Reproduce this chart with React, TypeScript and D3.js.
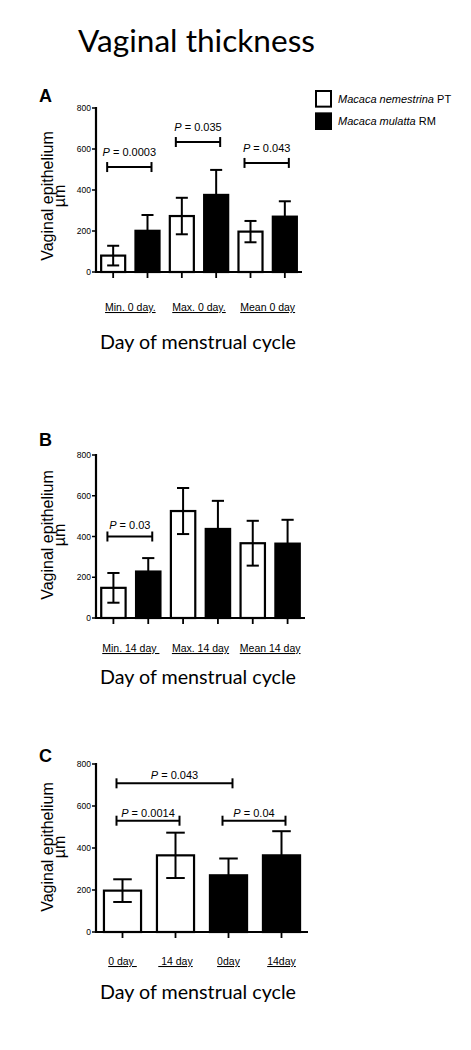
import React from 'react';
import * as d3 from 'd3';

// ---------- data ----------
const yTicks = [0, 200, 400, 600, 800];

const catsA = ['Min. 0 day.', 'Max. 0 day.', 'Mean 0 day'];
const ptMeanA = [80, 273, 197];
const ptSdA = [48, 89, 52];
const rmMeanA = [201, 376, 270];
const rmSdA = [77, 122, 75];
const bracketsA = [
  { from: 0, to: 1, y: 512, p: '0.0003' },
  { from: 2, to: 3, y: 634, p: '0.035' },
  { from: 4, to: 5, y: 532, p: '0.043' },
];

const catsB = ['Min. 14 day ', 'Max. 14 day', 'Mean 14 day'];
const ptMeanB = [148, 525, 367];
const ptSdB = [73, 113, 110];
const rmMeanB = [228, 437, 365];
const rmSdB = [66, 138, 117];
const bracketsB = [{ from: 0, to: 1, y: 400, p: '0.03' }];

const catsC = ['0 day ', ' 14 day', '0day', '14day'];
const speciesC = ['PT', 'PT', 'RM', 'RM'];
const meanC = [197, 365, 270, 365];
const sdC = [54, 108, 80, 115];
const bracketsC = [
  { from: 0, to: 2, y: 708, p: '0.043' },
  { from: 0, to: 1, y: 530, p: '0.0014' },
  { from: 2, to: 3, y: 530, p: '0.04' },
];

const legendItems = [
  { species: 'PT', italic: 'Macaca nemestrina', suffix: ' PT' },
  { species: 'RM', italic: 'Macaca mulatta', suffix: ' RM' },
];

type Bar = { id: string; species: string; v: number; sd: number };
type Bracket = { from: number; to: number; y: number; p: string };

function pairBars(ptM: number[], ptS: number[], rmM: number[], rmS: number[]): Bar[] {
  const out: Bar[] = [];
  ptM.forEach((_, i) => {
    out.push({ id: `${i}-PT`, species: 'PT', v: ptM[i], sd: ptS[i] });
    out.push({ id: `${i}-RM`, species: 'RM', v: rmM[i], sd: rmS[i] });
  });
  return out;
}

const SANS = '"Liberation Sans", Arial, sans-serif';
const CAL = 'Lato, "Open Sans", sans-serif';

type Layout = {
  x0: number; x1: number; yBase: number; yTop: number;
  letter: string; letterY: number; labelY: number; titleY: number;
  yLabelCY: number; pGap: number;
};

function Panel({ bars, cats, paired, brackets, L }: { bars: Bar[]; cats: string[]; paired: boolean; brackets: Bracket[]; L: Layout }) {
  const x = d3.scaleBand<string>().domain(bars.map(b => b.id)).range([L.x0, L.x1]).paddingInner(0.3).paddingOuter(0.15);
  const y = d3.scaleLinear().domain([0, 800]).range([L.yBase, L.yTop]);
  const bw = x.bandwidth();
  const cx = (i: number) => (x(bars[i].id) as number) + bw / 2;
  const capW = bw * 0.5;
  const catCenter = (i: number) => (paired ? (cx(2 * i) + cx(2 * i + 1)) / 2 : cx(i));

  return (
    <g>
      <text x={39} y={L.letterY} fontFamily={SANS} fontWeight="bold" fontSize={18}>{L.letter}</text>
      {/* y label */}
      <text transform={`translate(52.5,${L.yLabelCY}) rotate(-90)`} textAnchor="middle" fontFamily={SANS} fontSize={16}>Vaginal epithelium</text>
      <text transform={`translate(65,${L.yLabelCY}) rotate(-90)`} textAnchor="middle" fontFamily={SANS} fontSize={16}>µm</text>
      {/* bars */}
      {bars.map(b => (
        <rect key={b.id} x={x(b.id)} y={y(b.v)} width={bw} height={y(0) - y(b.v)}
          fill={b.species === 'PT' ? '#fff' : '#000'} stroke="#000" strokeWidth={2.2} />
      ))}
      {/* error bars */}
      {bars.map((b, i) => {
        const c = cx(i);
        return (
          <g key={'e' + b.id} stroke="#000" strokeWidth={2}>
            <line x1={c} x2={c} y1={y(b.v - b.sd)} y2={y(b.v + b.sd)} />
            <line x1={c - capW / 2} x2={c + capW / 2} y1={y(b.v + b.sd)} y2={y(b.v + b.sd)} />
            <line x1={c - capW / 2} x2={c + capW / 2} y1={y(b.v - b.sd)} y2={y(b.v - b.sd)} />
          </g>
        );
      })}
      {/* axes */}
      <line x1={L.x0} x2={L.x0} y1={y(800) - 1} y2={y(0) + 1} stroke="#000" strokeWidth={2.2} />
      <line x1={L.x0 - 1} x2={L.x1} y1={y(0)} y2={y(0)} stroke="#000" strokeWidth={2.2} />
      {yTicks.map(t => (
        <g key={t}>
          <line x1={L.x0 - 4} x2={L.x0} y1={y(t)} y2={y(t)} stroke="#000" strokeWidth={1.5} />
          <text x={L.x0 - 5} y={y(t) + 3} textAnchor="end" fontFamily={SANS} fontSize={8.5}>{t}</text>
        </g>
      ))}
      {bars.map((b, i) => (
        <line key={'t' + b.id} x1={cx(i)} x2={cx(i)} y1={y(0)} y2={y(0) + 6} stroke="#000" strokeWidth={1.8} />
      ))}
      {/* brackets */}
      {brackets.map((br, k) => {
        const xa = cx(br.from) - 6;
        const xb = cx(br.to) + 4;
        const yy = y(br.y);
        return (
          <g key={'b' + k}>
            <g stroke="#000" strokeWidth={2}>
              <line x1={xa} x2={xb} y1={yy} y2={yy} />
              <line x1={xa} x2={xa} y1={yy - 5} y2={yy + 5} />
              <line x1={xb} x2={xb} y1={yy - 5} y2={yy + 5} />
            </g>
            <text x={(xa + xb) / 2} y={yy - L.pGap} textAnchor="middle" fontFamily={SANS} fontSize={11}>
              <tspan fontStyle="italic">P</tspan> = {br.p}
            </text>
          </g>
        );
      })}
      {/* category labels */}
      {cats.map((c, i) => (
        <text key={'c' + i} x={catCenter(i)} y={L.labelY} textAnchor="middle" fontFamily={SANS} fontSize={10.5}
          textDecoration="underline" style={{ whiteSpace: 'pre' }}>{c}</text>
      ))}
      <text x={198} y={L.titleY} textAnchor="middle" fontFamily={CAL} fontSize={20} textLength={196} lengthAdjust="spacingAndGlyphs">Day of menstrual cycle</text>
    </g>
  );
}

export default function App() {
  const barsA = pairBars(ptMeanA, ptSdA, rmMeanA, rmSdA);
  const barsB = pairBars(ptMeanB, ptSdB, rmMeanB, rmSdB);
  const barsC: Bar[] = meanC.map((v, i) => ({ id: `${i}`, species: speciesC[i], v, sd: sdC[i] }));

  const LA: Layout = { x0: 96, x1: 302, yBase: 272, yTop: 108, letter: 'A', letterY: 102, labelY: 311, titleY: 349, yLabelCY: 196, pGap: 11 };
  const LB: Layout = { x0: 96, x1: 305, yBase: 618, yTop: 455, letter: 'B', letterY: 446, labelY: 652, titleY: 684, yLabelCY: 535, pGap: 8 };
  const LC: Layout = { x0: 96, x1: 308, yBase: 932, yTop: 764, letter: 'C', letterY: 762, labelY: 965, titleY: 999, yLabelCY: 847, pGap: 4 };

  const legY = d3.scaleBand<string>().domain(legendItems.map(d => d.species)).range([91, 129]).paddingInner(0.3);

  return (
    <svg width={471} height={1050} style={{ position: 'absolute', left: 0, top: 0, background: '#fff' }}>
      <rect width={471} height={1050} fill="#fff" />
      <text x={78} y={52} fontFamily={CAL} fontSize={31} textLength={237} lengthAdjust="spacingAndGlyphs">Vaginal thickness</text>
      {legendItems.map(d => {
        const yy = legY(d.species) as number;
        const h = legY.bandwidth();
        return (
          <g key={d.species}>
            <rect x={316} y={yy} width={15} height={h} fill={d.species === 'PT' ? '#fff' : '#000'} stroke="#000" strokeWidth={2} />
            <text x={338} y={yy + h / 2 + 4} fontFamily={SANS} fontSize={11}>
              <tspan fontStyle="italic">{d.italic}</tspan>{d.suffix}
            </text>
          </g>
        );
      })}
      <Panel bars={barsA} cats={catsA} paired brackets={bracketsA} L={LA} />
      <Panel bars={barsB} cats={catsB} paired brackets={bracketsB} L={LB} />
      <Panel bars={barsC} cats={catsC} paired={false} brackets={bracketsC} L={LC} />
    </svg>
  );
}
